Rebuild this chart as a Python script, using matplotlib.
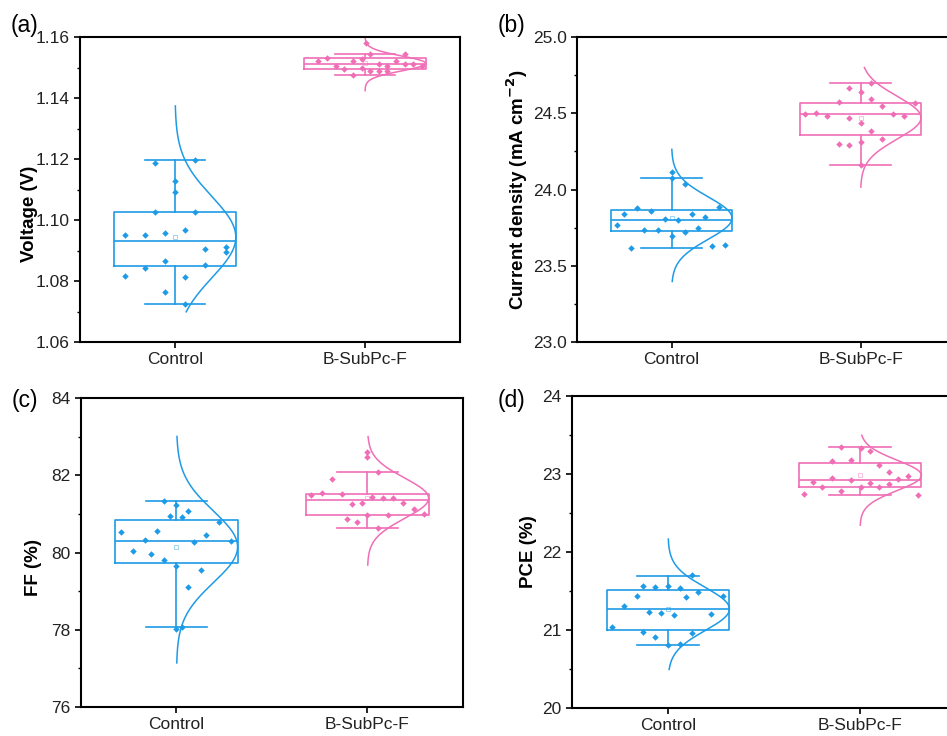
import numpy as np
import matplotlib.pyplot as plt

plt.rcParams['font.family'] = ['Liberation Sans', 'DejaVu Sans']

# categories / colours
groups = ['Control', 'B-SubPc-F']
colors = ['#1E9BE6', '#F06EB6']

# ---- (a) Voltage ----
voc_ctrl = [1.1188, 1.1197, 1.1128, 1.1092, 1.1025, 1.1025, 1.0952, 1.0952, 1.0958, 1.0967,
            1.0905, 1.0912, 1.0895, 1.0865, 1.0854, 1.0842, 1.0816, 1.0812, 1.0764, 1.0726]
voc_ctrl_dx = [-0.105, 0.105, 0, 0, -0.105, 0.105, -0.263, -0.158, -0.053, 0.053,
               0.158, 0.267, 0.267, -0.053, 0.158, -0.158, -0.263, 0.053, -0.053, 0.053]
voc_bsub = [1.1579, 1.1545, 1.1545, 1.1520, 1.1530, 1.1520, 1.1529, 1.1523, 1.1504, 1.1496,
            1.1497, 1.1511, 1.1504, 1.1511, 1.1504, 1.1488, 1.1490, 1.1488, 1.1474, 1.1511]
voc_bsub_dx = [0.004, 0.026, 0.209, -0.246, -0.198, -0.065, -0.018, 0.161, -0.153, -0.109,
               -0.018, 0.074, 0.118, 0.254, 0.298, 0.026, 0.074, 0.118, -0.065, 0.209]
# box stats: q1, median, q3, whisker low, whisker high
voc_box = [[1.0848, 1.0932, 1.1025, 1.0726, 1.1197], [1.1496, 1.1511, 1.1530, 1.1474, 1.1545]]
voc_curve = [[1.0699, 1.1374], [1.1424, 1.1597]]

# ---- (b) Current density ----
jsc_ctrl = [24.117, 24.077, 24.034, 23.770, 23.838, 23.879, 23.859, 23.737, 23.733, 23.805,
            23.800, 23.698, 23.722, 23.842, 23.750, 23.820, 23.888, 23.615, 23.632, 23.637]
jsc_ctrl_dx = [0, 0, 0.071, -0.287, -0.25, -0.18, -0.108, -0.143, -0.072, -0.037,
               0.035, 0, 0.071, 0.106, 0.141, 0.176, 0.249, -0.215, 0.212, 0.284]
jsc_bsub = [24.697, 24.666, 24.640, 24.594, 24.573, 24.546, 24.570, 24.496, 24.501, 24.485,
            24.466, 24.433, 24.494, 24.485, 24.383, 24.333, 24.296, 24.291, 24.309, 24.162]
jsc_bsub_dx = [0.056, -0.06, 0, 0.056, -0.116, 0.115, 0.289, -0.293, -0.235, -0.176,
               -0.06, 0, 0.173, 0.231, 0.056, 0.115, -0.116, -0.06, 0, 0]
jsc_box = [[23.726, 23.803, 23.868, 23.615, 24.077], [24.357, 24.492, 24.570, 24.162, 24.697]]
jsc_curve = [[23.397, 24.263], [24.016, 24.80]]

# ---- (c) FF ----
ff_ctrl = [81.345, 81.224, 81.077, 80.956, 80.921, 80.800, 80.532, 80.549, 80.445, 80.316,
           80.272, 80.307, 80.030, 79.952, 79.797, 79.658, 79.546, 79.105, 78.032, 78.084]
ff_ctrl_dx = [-0.066, 0, 0.061, -0.035, 0.03, 0.222, -0.292, -0.1, 0.157, -0.163,
              0.093, 0.285, -0.227, -0.131, -0.066, 0, 0.126, 0.061, 0, 0.03]
ff_bsub = [82.590, 82.478, 82.080, 81.907, 81.483, 81.552, 81.526, 81.267, 81.293, 81.440,
           81.423, 81.423, 81.276, 81.129, 81.008, 80.878, 80.783, 80.964, 80.964, 80.644]
ff_bsub_dx = [0, 0, 0.054, -0.187, -0.294, -0.24, -0.133, -0.08, -0.028, 0.026,
              0.08, 0.133, 0.187, 0.241, 0.294, -0.108, -0.054, 0, 0.107, 0.054]
ff_box = [[79.719, 80.307, 80.852, 78.084, 81.345], [80.982, 81.354, 81.526, 80.644, 82.080]]
ff_curve = [[77.142, 83.005], [79.676, 83.0]]

# ---- (d) PCE ----
pce_ctrl = [21.706, 21.561, 21.557, 21.569, 21.544, 21.437, 21.424, 21.484, 21.441, 21.313,
            21.232, 21.220, 21.194, 21.203, 21.041, 20.981, 20.908, 20.968, 20.802, 20.819]
pce_ctrl_dx = [0.127, -0.132, -0.068, 0, 0.062, -0.163, 0.094, 0.158, 0.286, -0.227,
               -0.099, -0.035, 0.029, 0.222, -0.291, -0.132, -0.068, 0.127, 0, 0.062]
pce_bsub = [23.352, 23.330, 23.292, 23.173, 23.177, 23.117, 23.032, 22.981, 22.951, 22.921,
            22.930, 22.896, 22.883, 22.832, 22.840, 22.832, 22.866, 22.746, 22.780, 22.725]
pce_bsub_dx = [-0.097, 0.003, 0.052, -0.146, -0.047, 0.1, 0.151, 0.25, -0.146, -0.047,
               0.2, -0.244, 0.052, -0.196, 0.003, 0.1, 0.151, -0.293, -0.097, 0.3]
pce_box = [[21.006, 21.267, 21.514, 20.802, 21.697], [22.836, 22.921, 23.139, 22.725, 23.352]]
pce_curve = [[20.495, 22.166], [22.345, 23.497]]

panels = [
    dict(tag='(a)', ylabel='Voltage (V)', data=[voc_ctrl, voc_bsub], dx=[voc_ctrl_dx, voc_bsub_dx],
         box=voc_box, curve=voc_curve, ylim=(1.06, 1.16), step=0.02, fmt='%.2f',
         rect=[0.0845, 0.5353, 0.4013, 0.4144], lx=-0.11, ly=0.42, tagxy=(0.011, 0.966)),
    dict(tag='(b)', ylabel='Current density (mA cm$^{\\mathbf{-2}}$)', data=[jsc_ctrl, jsc_bsub],
         dx=[jsc_ctrl_dx, jsc_bsub_dx], box=jsc_box, curve=jsc_curve, ylim=(23.0, 25.0), step=0.5,
         fmt='%.1f', rect=[0.6093, 0.5353, 0.3992, 0.4144], lx=-0.124, ly=0.5,
         tagxy=(0.525, 0.966)),
    dict(tag='(c)', ylabel='FF (%)', data=[ff_ctrl, ff_bsub], dx=[ff_ctrl_dx, ff_bsub_dx],
         box=ff_box, curve=ff_curve, ylim=(76, 84), step=2, fmt='%d',
         rect=[0.0855, 0.0394, 0.4034, 0.4198], lx=-0.102, ly=0.45, tagxy=(0.012, 0.456)),
    dict(tag='(d)', ylabel='PCE (%)', data=[pce_ctrl, pce_bsub], dx=[pce_ctrl_dx, pce_bsub_dx],
         box=pce_box, curve=pce_curve, ylim=(20, 24), step=1, fmt='%d',
         rect=[0.604, 0.038, 0.4055, 0.4239], lx=-0.091, ly=0.5, tagxy=(0.526, 0.456)),
]

fig = plt.figure(figsize=(9.47, 7.36), dpi=100)

half = 0.32  # half box width
for p in panels:
    ax = fig.add_axes(p['rect'])
    for i in range(2):
        c = colors[i]
        q1, med, q3, wlo, whi = p['box'][i]
        vals = np.array(p['data'][i])
        st = dict(q1=q1, med=med, q3=q3, whislo=wlo, whishi=whi, mean=vals.mean(), fliers=[])
        ax.bxp([st], positions=[i + 1], widths=2 * half, capwidths=half,
               showfliers=False, showmeans=True,
               boxprops=dict(color=c, lw=1.2), medianprops=dict(color=c, lw=1.2),
               whiskerprops=dict(color=c, lw=1.2), capprops=dict(color=c, lw=1.2),
               meanprops=dict(marker='s', markerfacecolor='none', markeredgecolor=c,
                              markersize=3, alpha=0.5, markeredgewidth=0.6))
        ax.plot(i + 1 + np.array(p['dx'][i]), vals, 'D', color=c, ms=3.3, mew=0, zorder=4)
        mu, sd = vals.mean(), vals.std(ddof=1)
        yy = np.linspace(p['curve'][i][0], p['curve'][i][1], 200)
        ax.plot(i + 1 + half * np.exp(-(yy - mu) ** 2 / (2 * sd ** 2)), yy, color=c, lw=1.1)

    ax.set_xlim(0.5, 2.5)
    ax.set_ylim(*p['ylim'])
    ax.set_xticks([1, 2])
    ax.set_xticklabels(groups)
    yt = np.arange(p['ylim'][0], p['ylim'][1] + p['step'] / 2, p['step'])
    ax.set_yticks(yt)
    ax.set_yticklabels([p['fmt'] % v for v in yt])
    ax.set_yticks(yt[:-1] + p['step'] / 2, minor=True)
    ax.tick_params(axis='both', which='major', direction='out', length=4, width=1.2,
                   labelsize=12.5, labelcolor='#222222')
    ax.tick_params(axis='y', which='minor', direction='out', length=2.5, width=1.0)
    for s in ax.spines.values():
        s.set_linewidth(1.5)
    ax.set_ylabel(p['ylabel'], fontsize=13.5, fontweight='bold')
    ax.yaxis.set_label_coords(p['lx'], p['ly'])
    fig.text(p['tagxy'][0], p['tagxy'][1], p['tag'], fontsize=16.5, ha='left', va='center')

fig.savefig('out.png', dpi=100)
